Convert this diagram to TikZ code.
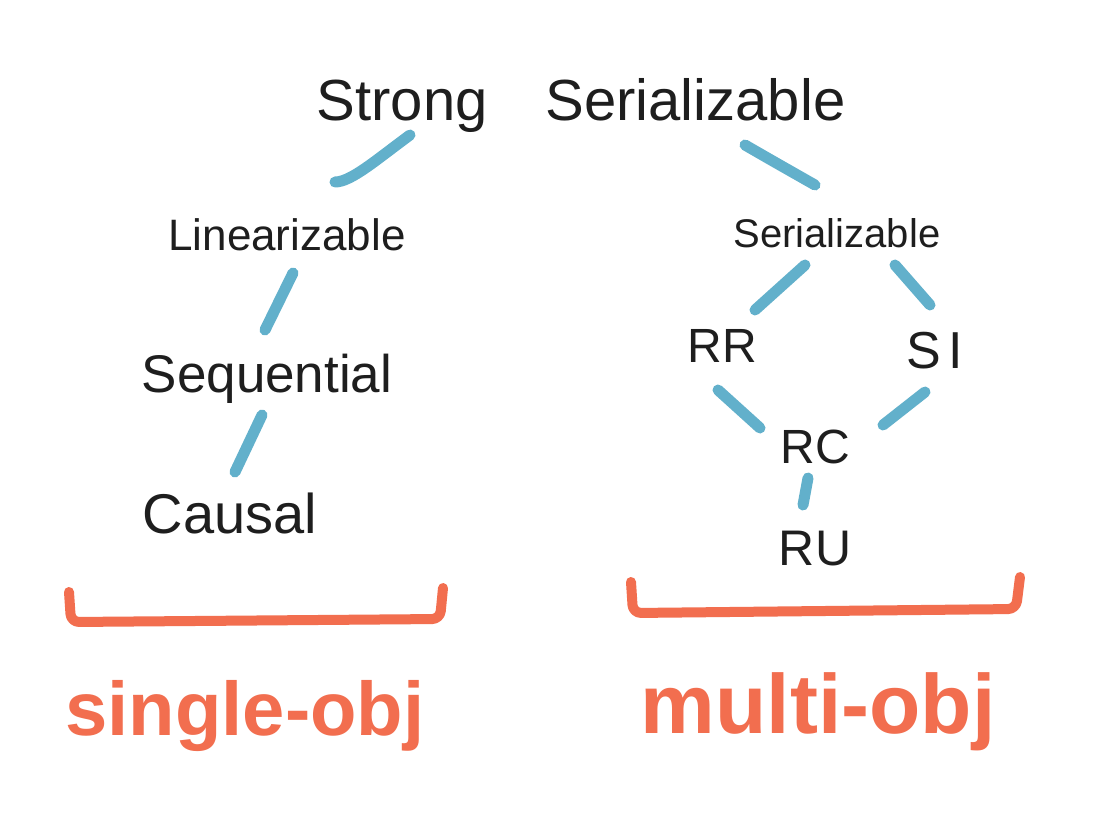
\documentclass[tikz,border=0pt]{standalone}
\usepackage{fontspec}
\setmainfont{Liberation Sans}
\definecolor{linkblue}{HTML}{62B0CB}
\definecolor{brorange}{HTML}{F26E4F}
\definecolor{ink}{HTML}{1E1E1E}
\begin{document}
\begin{tikzpicture}[x=1pt,y=-1pt,
  lbl/.style={anchor=base,inner sep=0pt,text=ink},
  conn/.style={draw=linkblue,line width=11pt,line cap=round},
  brk/.style={draw=brorange,line width=10pt,line cap=round,line join=round,rounded corners=8pt},
  grp/.style={anchor=base,inner sep=0pt,text=brorange,font=\bfseries}]
\fill[white] (0,0) rectangle (1100,825);
\useasboundingbox (0,0) rectangle (1100,825);

\node[lbl,font=\fontsize{58}{58}\selectfont] (strong) at (581,120) {Strong\hspace{1em}Serializable};
\node[lbl,font=\fontsize{44}{44}\selectfont] (lin) at (287,250) {Linearizable};
\node[lbl,font=\fontsize{40}{40}\selectfont] (ser) at (837,247) {Serializable};
\node[lbl,font=\fontsize{48}{48}\selectfont] (rr) at (722,362) {RR};
\node[lbl,font=\fontsize{52}{52}\selectfont] (si) at (935,368) {S\hspace{0.15em}I};
\node[lbl,font=\fontsize{53}{53}\selectfont] (seq) at (267,392) {Sequential};
\node[lbl,font=\fontsize{48}{48}\selectfont] (rc) at (815,463) {RC};
\node[lbl,font=\fontsize{56}{56}\selectfont] (causal) at (230,533) {Causal};
\node[lbl,font=\fontsize{50}{50}\selectfont] (ru) at (815,565) {RU};

\node[grp,font=\bfseries\fontsize{76}{76}\selectfont] (single) at (245,735) {single-obj};
\node[grp,font=\bfseries\fontsize{84}{84}\selectfont] (multi) at (818,733) {multi-obj};

% connectors
\draw[conn] ([shift={(-171,15)}]strong.base) .. controls ([shift={(-205,40)}]strong.base) and ([shift={(-230,62)}]strong.base) .. ([shift={(48,-68)}]lin.base);
\draw[conn] ([shift={(164,25)}]strong.base) .. controls ([shift={(190,40)}]strong.base) .. ([shift={(-22,-62)}]ser.base);
\draw[conn] ([shift={(6,23)}]lin.base) -- ([shift={(-2,-62)}]seq.base);
\draw[conn] ([shift={(-5,23)}]seq.base) -- ([shift={(5,-61)}]causal.base);
\draw[conn] ([shift={(-32,18)}]ser.base) -- ([shift={(33,-52)}]rr.base);
\draw[conn] ([shift={(58,18)}]ser.base) -- ([shift={(-5,-63)}]si.base);
\draw[conn] ([shift={(-4,28)}]rr.base) -- ([shift={(-55,-35)}]rc.base);
\draw[conn] ([shift={(-10,24)}]si.base) -- ([shift={(68,-38)}]rc.base);
\draw[conn] ([shift={(-7,15)}]rc.base) -- ([shift={(-12,-60)}]ru.base);

% brackets
\draw[brk] (69,592) -- (71,622) -- (440,619) -- (443,588);
\draw[brk] (631,582) -- (633,613) -- (1016,609) -- (1020,577);
\end{tikzpicture}
\end{document}
